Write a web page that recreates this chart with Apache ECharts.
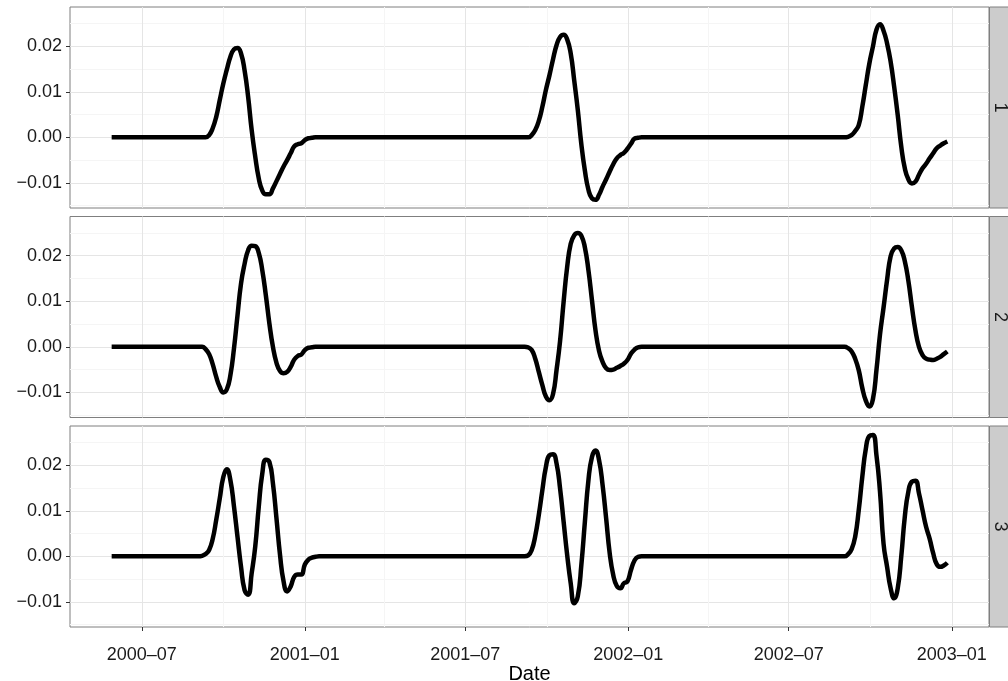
<!DOCTYPE html>
<html>
<head>
<meta charset="utf-8">
<script src="https://cdn.jsdelivr.net/npm/echarts@6/dist/echarts.min.js"></script>
<style>
  html, body { margin: 0; padding: 0; background: #fff; }
  #main { width: 1008px; height: 681px; }
</style>
</head>
<body>
<div id="main"></div>
<script>
// sample dates, shared by the three panels
var dates = [
  '2000-05-28', '2000-07-01', '2000-08-01',
  '2000-09-03', '2000-09-07', '2000-09-11', '2000-09-15', '2000-09-19', '2000-09-23', '2000-09-27',
  '2000-10-01', '2000-10-05', '2000-10-09', '2000-10-13', '2000-10-17', '2000-10-21', '2000-10-25', '2000-10-29',
  '2000-11-02', '2000-11-06', '2000-11-10', '2000-11-14', '2000-11-18', '2000-11-22', '2000-11-26', '2000-11-30',
  '2000-12-04', '2000-12-08', '2000-12-12', '2000-12-16', '2000-12-20', '2000-12-24', '2000-12-28',
  '2001-01-01', '2001-01-05', '2001-01-09', '2001-01-13', '2001-01-17',
  '2001-03-01', '2001-05-01', '2001-07-01',
  '2001-09-02', '2001-09-06', '2001-09-10', '2001-09-14', '2001-09-18', '2001-09-22', '2001-09-26', '2001-09-30',
  '2001-10-04', '2001-10-08', '2001-10-12', '2001-10-16', '2001-10-20', '2001-10-24', '2001-10-28',
  '2001-11-01', '2001-11-05', '2001-11-09', '2001-11-13', '2001-11-17', '2001-11-21', '2001-11-25', '2001-11-29',
  '2001-12-03', '2001-12-07', '2001-12-11', '2001-12-15', '2001-12-19', '2001-12-23', '2001-12-27', '2001-12-31',
  '2002-01-04', '2002-01-08', '2002-01-12', '2002-01-16', '2002-01-20', '2002-01-24',
  '2002-03-01', '2002-05-01', '2002-07-01',
  '2002-08-29', '2002-09-02', '2002-09-06', '2002-09-10', '2002-09-14', '2002-09-18', '2002-09-22', '2002-09-26', '2002-09-30',
  '2002-10-04', '2002-10-08', '2002-10-12', '2002-10-16', '2002-10-20', '2002-10-24', '2002-10-28',
  '2002-11-01', '2002-11-05', '2002-11-09', '2002-11-13', '2002-11-17', '2002-11-21', '2002-11-25', '2002-11-29',
  '2002-12-03', '2002-12-07', '2002-12-11', '2002-12-15', '2002-12-19', '2002-12-23', '2002-12-27'
];

var panel1 = [
  0, 0, 0,
  0, 0, 0, 0.0005, 0.0020, 0.0045, 0.0082, 0.0118, 0.0149, 0.0177, 0.0193, 0.0196, 0.0184, 0.0147, 0.0089,
  0.0016, -0.0042, -0.0090, -0.0117, -0.0125, -0.0125, -0.0112, -0.0096, -0.0080, -0.0064, -0.0050, -0.0035,
  -0.0020, -0.0015, -0.0013, -0.0006, -0.0002, -0.0001, 0, 0,
  0, 0, 0,
  0, 0, 0, 0.0005, 0.0016, 0.0036, 0.0067, 0.0104, 0.0136, 0.0171, 0.0202, 0.0220, 0.0225, 0.0215, 0.0184,
  0.0124, 0.0060, -0.0015, -0.0073, -0.0115, -0.0134, -0.0137, -0.0126, -0.0108, -0.0092, -0.0075, -0.0059,
  -0.0046, -0.0039, -0.0034, -0.0025, -0.0014, -0.0003, -0.0001, 0, 0, 0,
  0, 0, 0,
  0, 0, 0.0001, 0.0005, 0.0014, 0.0027, 0.0067, 0.0115, 0.0162, 0.0199, 0.0236, 0.0248, 0.0234, 0.0206,
  0.0166, 0.0111, 0.0049, -0.0020, -0.0068, -0.0092, -0.0101, -0.0097, -0.0082, -0.0068, -0.0058, -0.0046,
  -0.0035, -0.0024, -0.0018, -0.0013, -0.0009
];

var panel2 = [
  0, 0, 0,
  0, 0, -0.0005, -0.0016, -0.0038, -0.0066, -0.0088, -0.0100, -0.0093, -0.0062, -0.0004, 0.0069, 0.0139,
  0.0182, 0.0212, 0.0222, 0.0221, 0.0206, 0.0168, 0.0113, 0.0051, 0.0000, -0.0035, -0.0053, -0.0058, -0.0055,
  -0.0044, -0.0028, -0.0020, -0.0017, -0.0007, -0.0002, -0.0001, 0, 0,
  0, 0, 0,
  0, 0, -0.0001, -0.0007, -0.0026, -0.0055, -0.0084, -0.0109, -0.0117, -0.0104, -0.0051, 0.0013, 0.0099,
  0.0175, 0.0226, 0.0245, 0.0250, 0.0244, 0.0218, 0.0168, 0.0102, 0.0036, -0.0009, -0.0033, -0.0047, -0.0051,
  -0.0050, -0.0046, -0.0042, -0.0037, -0.0029, -0.0015, -0.0006, -0.0001, 0, 0, 0,
  0, 0, 0,
  0, 0, -0.0003, -0.0010, -0.0026, -0.0051, -0.0090, -0.0118, -0.0131, -0.0115, -0.0051, 0.0027, 0.0086,
  0.0147, 0.0199, 0.0216, 0.0219, 0.0212, 0.0188, 0.0145, 0.0088, 0.0036, 0.0000, -0.0018, -0.0026, -0.0028,
  -0.0029, -0.0026, -0.0022, -0.0016, -0.0010
];

var panel3 = [
  0, 0, 0,
  0, 0.0001, 0.0005, 0.0014, 0.0038, 0.0080, 0.0127, 0.0174, 0.0191, 0.0167, 0.0110, 0.0043, -0.0023,
  -0.0074, -0.0084, -0.0037, 0.0021, 0.0109, 0.0182, 0.0212, 0.0207, 0.0160, 0.0083, 0.0003, -0.0055, -0.0077,
  -0.0066, -0.0045, -0.0040, -0.0040, -0.0018, -0.0007, -0.0003, -0.0001, 0,
  0, 0, 0,
  0, 0, 0.0002, 0.0014, 0.0045, 0.0091, 0.0145, 0.0196, 0.0222, 0.0224, 0.0204, 0.0149, 0.0076, 0.0003,
  -0.0059, -0.0103, -0.0088, -0.0019, 0.0076, 0.0167, 0.0218, 0.0232, 0.0211, 0.0156, 0.0083, 0.0007,
  -0.0041, -0.0065, -0.0070, -0.0059, -0.0055, -0.0030, -0.0009, -0.0001, 0, 0, 0,
  0, 0, 0,
  0, 0, 0.0005, 0.0016, 0.0043, 0.0101, 0.0174, 0.0236, 0.0264, 0.0266, 0.0222, 0.0142, 0.0028, -0.0023,
  -0.0070, -0.0092, -0.0070, 0.0000, 0.0087, 0.0142, 0.0164, 0.0166, 0.0138, 0.0101, 0.0065, 0.0039,
  0.0007, -0.0017, -0.0023, -0.0020, -0.0014
];

var panelNames = ['1', '2', '3'];
var xTicks = ['2000-07-01', '2001-01-01', '2001-07-01', '2002-01-01', '2002-07-01', '2003-01-01'];
var xMinorTicks = ['2000-10-01', '2001-04-01', '2001-10-01', '2002-04-01', '2002-10-01'];
var yTicks = [-0.01, 0, 0.01, 0.02];
var yMinorTicks = [-0.015, -0.005, 0.005, 0.015, 0.025];

var xMin = '2000-04-11', xMax = '2003-02-12';
var yMin = -0.0155, yMax = 0.0286;

// layout
var panelTops = [7, 216.5, 426];
var panelH = 201;
var font = 'Liberation Sans, Arial, sans-serif';
var textColor = '#1a1a1a';

// dates as UTC timestamps on a value axis
function ts(s) {
  var p = s.split('-');
  return Date.UTC(+p[0], +p[1] - 1, +p[2]);
}
function fmtDate(v) {
  var d = new Date(v);
  var m = d.getUTCMonth() + 1;
  return d.getUTCFullYear() + '\u2013' + (m < 10 ? '0' : '') + m;
}
function fmtNum(v) {
  var s = Math.abs(v).toFixed(2);
  return v < -1e-9 ? '\u2212' + s : s;
}

var grids = [], xAxes = [], yAxes = [], series = [], graphics = [];
[panel1, panel2, panel3].forEach(function (vals, i) {
  var last = i === 2;
  grids.push({
    left: 70, right: 19, top: panelTops[i], height: panelH,
    outerBoundsMode: 'none', containLabel: false,
    show: true, backgroundColor: '#fff', borderColor: '#7f7f7f', borderWidth: 1
  });
  // major x
  xAxes.push({
    type: 'value', gridIndex: i, min: ts(xMin), max: ts(xMax), position: 'bottom',
    axisLine: { show: false, onZero: false },
    axisTick: { show: last, customValues: xTicks.map(ts), length: 4, lineStyle: { color: '#333', width: 1 } },
    axisLabel: { show: last, customValues: xTicks.map(ts), formatter: fmtDate, margin: 19,
                 fontSize: 18, fontFamily: font, color: textColor },
    splitLine: { show: true, lineStyle: { color: '#e5e5e5', width: 1 } },
    name: last ? 'Date' : '', nameLocation: 'middle', nameGap: 29,
    nameTextStyle: { fontSize: 20, fontFamily: font, color: '#000' }
  });
  // minor x grid
  xAxes.push({
    type: 'value', gridIndex: i, min: ts(xMin), max: ts(xMax), position: 'bottom',
    axisLine: { show: false, onZero: false },
    axisTick: { show: false, customValues: xMinorTicks.map(ts) },
    axisLabel: { show: false },
    splitLine: { show: true, lineStyle: { color: '#f5f5f5', width: 1 } }
  });
  // major y
  yAxes.push({
    type: 'value', gridIndex: i, min: yMin, max: yMax, position: 'left',
    axisLine: { show: false, onZero: false },
    axisTick: { show: true, customValues: yTicks, length: 4, lineStyle: { color: '#333', width: 1 } },
    axisLabel: { show: true, customValues: yTicks, formatter: fmtNum, margin: 8,
                 fontSize: 18, fontFamily: font, color: textColor },
    splitLine: { show: true, lineStyle: { color: '#e5e5e5', width: 1 } }
  });
  // minor y grid
  yAxes.push({
    type: 'value', gridIndex: i, min: yMin, max: yMax, position: 'left',
    axisLine: { show: false, onZero: false },
    axisTick: { show: false, customValues: yMinorTicks },
    axisLabel: { show: false },
    splitLine: { show: true, lineStyle: { color: '#f5f5f5', width: 1 } }
  });
  series.push({
    type: 'line', xAxisIndex: i * 2, yAxisIndex: i * 2,
    data: dates.map(function (d, k) { return [ts(d), vals[k]]; }),
    symbol: 'none', showSymbol: false, smooth: 0.5,
    lineStyle: { color: '#000', width: 4.5, join: 'round' },
    silent: true, animation: false
  });
  // facet strip on the right
  graphics.push({
    type: 'rect', shape: { x: 989.5, y: panelTops[i], width: 30, height: panelH },
    style: { fill: '#cccccc', stroke: '#7f7f7f', lineWidth: 1 }, silent: true
  });
  graphics.push({
    type: 'text', x: 1000, y: panelTops[i] + panelH / 2, rotation: -Math.PI / 2,
    style: { text: panelNames[i], fill: textColor, font: '18px ' + font, align: 'center', verticalAlign: 'middle' },
    silent: true
  });
});

var option = {
  backgroundColor: '#fff',
  animation: false,
  grid: grids,
  xAxis: xAxes,
  yAxis: yAxes,
  series: series,
  graphic: graphics
};

var myChart = echarts.init(document.getElementById('main'));
myChart.setOption(option);
</script>
</body>
</html>
